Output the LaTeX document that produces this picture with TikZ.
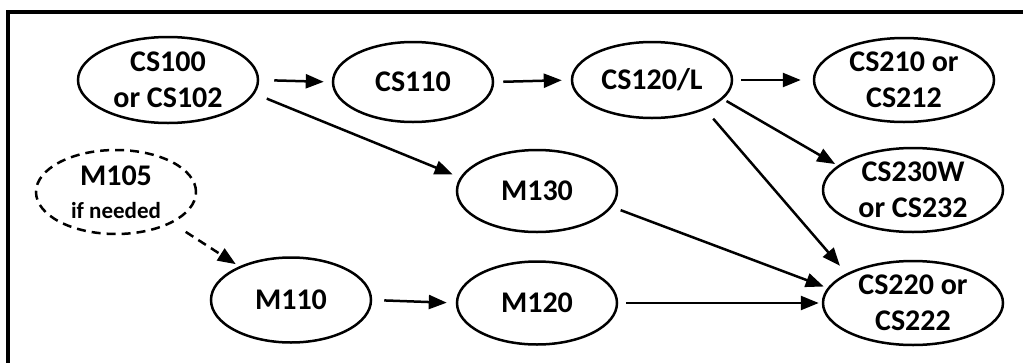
\documentclass[tikz,border=0pt]{standalone}
\usepackage{fontspec}
\setmainfont{Carlito}
\usetikzlibrary{shapes.geometric,arrows.meta}
\tikzset{
  course/.style={ellipse,draw,line width=2.5pt,inner sep=0pt,minimum width=160pt,minimum height=80pt,
    align=center,font=\fontsize{30}{36}\selectfont\bfseries},
  wide/.style={minimum width=180pt,minimum height=86pt},
  arr/.style={line width=2.5pt,-{Triangle[length=18pt,width=14pt]}},
  opt/.style={dash pattern=on 9pt off 6pt}
}
\begin{document}
\begin{tikzpicture}[x=1pt,y=-1pt]
\useasboundingbox (0,0) rectangle (1023,362);
\draw[line width=3.5pt] (8,365) -- (8,12) -- (1026,12);
\node[course,wide] (cs100) at (168,80) {CS100\\or CS102};
\node[course] (cs110) at (413,82) {CS110};
\node[course,minimum height=76pt] (cs120) at (652,80) {CS120/L};
\node[course,wide,minimum height=84pt] (cs210) at (904,80) {CS210 or\\CS212};
\node[course,wide,minimum height=84pt] (cs230) at (913,190) {CS230W\\or CS232};
\node[course,wide,minimum height=84pt] (cs220) at (913,303) {CS220 or\\CS222};
\node[course,minimum height=82pt] (m130) at (537,191) {M130};
\node[course,minimum height=84pt] (m105) at (116,192) [opt] {M105\\[-3pt]{\fontsize{23}{28}\selectfont if needed}};
\node[course,minimum height=85pt] (m110) at (291,300) {M110};
\node[course,minimum height=83pt] (m120) at (537,303) {M120};
\draw[arr,shorten <=15pt,shorten >=8pt] (cs100.east) -- (cs110.west);
\draw[arr,shorten <=9pt,shorten >=9pt] (cs110.east) -- (cs120.west);
\draw[arr,shorten <=8pt,shorten >=12pt] (cs120.east) -- (cs210.west);
\draw[arr,shorten <=4pt,shorten >=3pt] (cs120.-15) -- (cs230.162);
\draw[arr,shorten <=12pt,shorten >=10pt] (cs120.-29) -- (cs220.156);
\draw[arr,shorten <=13pt,shorten >=8pt] (cs100.-9) -- (m130.170);
\draw[arr,shorten <=9pt,shorten >=4pt] (m130.-12) -- (cs220.170);
\draw[arr,shorten <=8pt,shorten >=3pt] (m120.east) -- (cs220.west);
\draw[arr,shorten <=12pt,shorten >=9pt] (m110.east) -- (m120.west);
\draw[arr,opt,shorten <=16pt,shorten >=4pt] (m105.-29) -- (m110.147);
\end{tikzpicture}
\end{document}
